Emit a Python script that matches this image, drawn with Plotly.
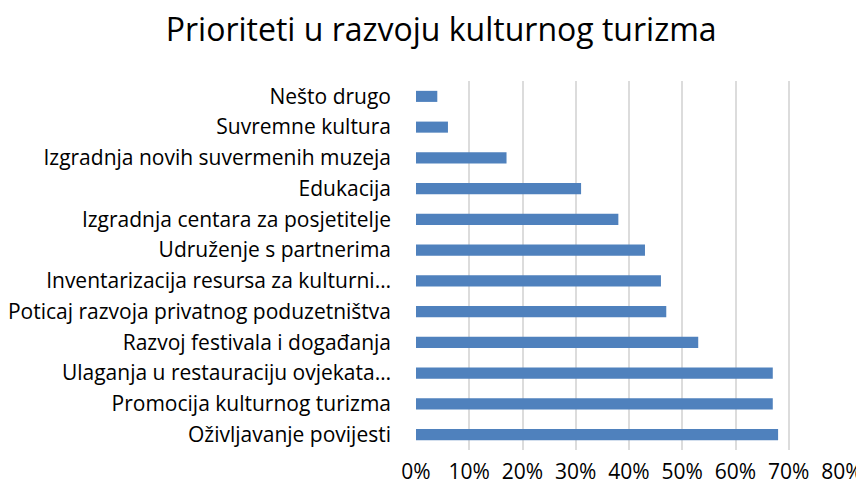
import plotly.graph_objects as go

categories = [
    "Oživljavanje povijesti",
    "Promocija kulturnog turizma",
    "Ulaganja u restauraciju ovjekata…",
    "Razvoj festivala i događanja",
    "Poticaj razvoja privatnog poduzetništva",
    "Inventarizacija resursa za kulturni…",
    "Udruženje s partnerima",
    "Izgradnja centara za posjetitelje",
    "Edukacija",
    "Izgradnja novih suvermenih muzeja",
    "Suvremne kultura",
    "Nešto drugo",
]
values = [0.68, 0.67, 0.67, 0.53, 0.47, 0.46, 0.43, 0.38, 0.31, 0.17, 0.06, 0.04]
tick_vals = [0, 0.1, 0.2, 0.3, 0.4, 0.5, 0.6, 0.7, 0.8]
tick_text = ["0%", "10%", "20%", "30%", "40%", "50%", "60%", "70%", "80%"]

fig = go.Figure(go.Bar(
    x=values, y=categories, orientation="h",
    marker=dict(color="#4f81bd", line=dict(width=0)),
))

fig.update_layout(
    width=856, height=483,
    paper_bgcolor="white", plot_bgcolor="white",
    margin=dict(l=408, r=22, t=73, b=41),
    bargap=0.64,
    showlegend=False,
    font=dict(family="Open Sans", color="#000000"),
    title=dict(text="Prioriteti u razvoju kulturnog turizma",
               font=dict(size=32, family="Open Sans", color="#000000"),
               x=0.506, xanchor="center", xref="container", yref="container",
               y=0.954, yanchor="middle"),
)
fig.update_xaxes(
    range=[0, 0.8], tickvals=tick_vals, ticktext=tick_text,
    showgrid=True, gridcolor="#dcdcdc", gridwidth=1.5,
    zeroline=False, showline=False, ticks="",
    tickfont=dict(size=21, family="Open Sans"),
    ticklabelstandoff=7, automargin=False,
)
fig.update_yaxes(
    showgrid=False, zeroline=False, showline=False, ticks="",
    tickfont=dict(size=21, family="Open Sans"),
    ticklabelstandoff=24, automargin=False,
)

fig.write_html("out.html")
